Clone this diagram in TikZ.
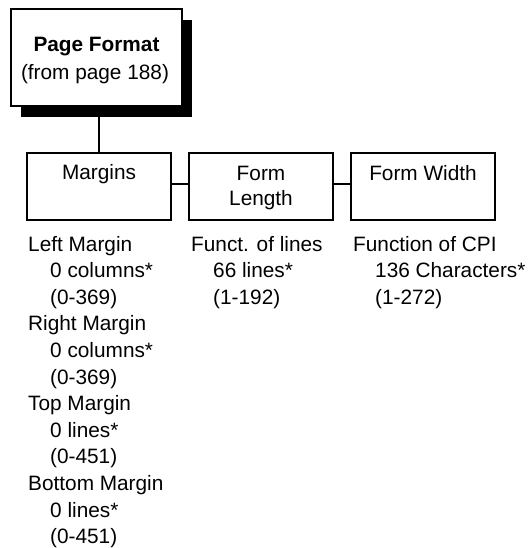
\documentclass[tikz,border=0pt]{standalone}
\usepackage{fontspec}
\setmainfont{Liberation Sans}
\begin{document}
\begin{tikzpicture}[x=1pt,y=-1pt,
  box/.style={draw=black,line width=2pt,fill=white,minimum width=144pt,minimum height=66.7pt,inner sep=0pt},
  lbl/.style={inner sep=0pt,font=\fontsize{20.8}{25}\selectfont},
  conn/.style={draw=black,line width=2pt}]
\useasboundingbox (0,0) rectangle (530,548);
% top box with shadow
\fill[black] (21,20) rectangle (191.7,117.3);
\node[box,minimum width=170.7pt,minimum height=96.7pt] (top) at (96.3,57.7) {};
\node[lbl,anchor=base,font=\fontsize{20.8}{25}\selectfont\bfseries] (topa) at (96.5,51.7) {Page Format};
\node[lbl,anchor=base] (topb) at (95,80) {(from page 188)};
% second row boxes
\node[box] (margins) at (99,186.6) {};
\node[box] (flen) at (261,186.6) {};
\node[box] (fwid) at (423,186.6) {};
\node[lbl,anchor=base] (margins-t) at (99,179.3) {Margins};
\node[lbl,anchor=base] (flen-t1) at (261,180) {Form};
\node[lbl,anchor=base] (flen-t2) at (261,205) {Length};
\node[lbl,anchor=base] (fwid-t) at (423,180) {Form Width};
% connectors
\draw[conn] (margins.north) -- (margins.north |- top.south);
\draw[conn] ([yshift=3pt]margins.east) -- ([yshift=3pt]flen.west);
\draw[conn] ([yshift=3pt]flen.east) -- ([yshift=3pt]fwid.west);
% lists
\foreach \t [count=\i from 0] in {Left Margin,Right Margin,Top Margin,Bottom Margin}{
  \node[lbl,anchor=base west] (lh\i) at (28,{251+3*\i*26.6}) {\t};
}
\foreach \t [count=\i from 0] in {0 columns*,0 columns*,0 lines*,0 lines*}{
  \node[lbl,anchor=base west] (lv\i) at (50,{251+(3*\i+1)*26.6}) {\t};
}
\foreach \t [count=\i from 0] in {(0-369),(0-369),(0-451),(0-451)}{
  \node[lbl,anchor=base west] (lr\i) at (50,{251+(3*\i+2)*26.6}) {\t};
}
\node[lbl,anchor=base west] (mh) at (191,251) {Funct. of lines};
\node[lbl,anchor=base west] (mv) at (213,277.6) {66 lines*};
\node[lbl,anchor=base west] (mr) at (213,304.2) {(1-192)};
\node[lbl,anchor=base west] (rh) at (353,251) {Function of CPI};
\node[lbl,anchor=base west] (rv) at (375,277.6) {136 Characters*};
\node[lbl,anchor=base west] (rr) at (375,304.2) {(1-272)};
\end{tikzpicture}
\end{document}
